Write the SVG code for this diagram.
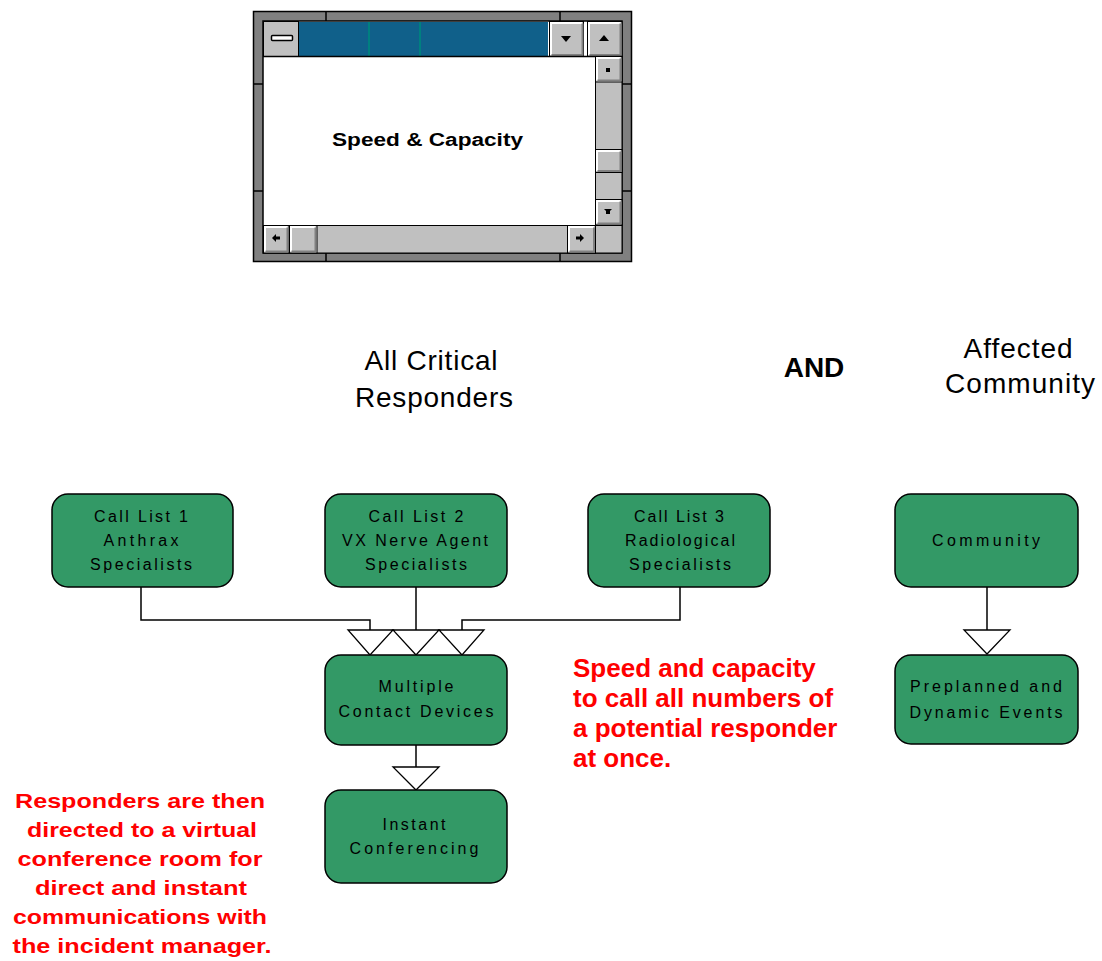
<svg xmlns="http://www.w3.org/2000/svg" width="1102" height="961" viewBox="0 0 1102 961">
<style>
.node rect{fill:#339966;stroke:#000;stroke-width:1.5}
.node text{font-family:"Liberation Sans",Arial,sans-serif;font-size:16px;fill:#000;text-anchor:middle}
.conn path{fill:none;stroke:#000;stroke-width:1.5}
.conn polygon{fill:#fff;stroke:#000;stroke-width:1.3}
.head{font-family:"Liberation Sans",Arial,sans-serif;font-size:28px;fill:#000;text-anchor:middle}
.red{font-family:"Liberation Sans",Arial,sans-serif;font-weight:bold;fill:#ff0000}
.btn{fill:#c0c0c0;stroke:#000;stroke-width:1}
.hi{fill:none;stroke:#fff;stroke-width:2}
.sh{fill:none;stroke:#808080;stroke-width:2}
.tick{stroke:#000;stroke-width:1.5}
</style>
<rect width="1102" height="961" fill="#fff"/>

<g id="window">
<rect x="253.5" y="11.5" width="378" height="250" fill="#808080" stroke="#000" stroke-width="1.5"/>
<line class="tick" x1="326" y1="11" x2="326" y2="21"/>
<line class="tick" x1="560" y1="11" x2="560" y2="21"/>
<line class="tick" x1="326" y1="253" x2="326" y2="262"/>
<line class="tick" x1="560" y1="253" x2="560" y2="262"/>
<line class="tick" x1="253" y1="84" x2="263" y2="84"/>
<line class="tick" x1="253" y1="191" x2="263" y2="191"/>
<line class="tick" x1="622" y1="84" x2="632" y2="84"/>
<line class="tick" x1="622" y1="191" x2="632" y2="191"/>
<rect x="263" y="21" width="359" height="232" fill="#fff" stroke="#000" stroke-width="1.5"/>
<!-- title bar -->
<rect class="btn" x="263.5" y="21.5" width="35" height="35"/>
<rect x="271.5" y="35.5" width="21" height="5" rx="1" fill="#fff" stroke="#000" stroke-width="1.5"/>
<rect x="299" y="22" width="249" height="34" fill="#10608a"/>
<rect x="368" y="22" width="2" height="34" fill="#008080"/>
<rect x="419" y="22" width="2" height="34" fill="#008080"/>
<rect class="btn" x="549.5" y="21.5" width="34" height="35"/>
<path class="hi" d="M551 55 V23 H582"/>
<path class="sh" d="M551.5 55 H582.5 V23.5"/>
<polygon points="561,36 571,36 566,42" fill="#000"/>
<rect class="btn" x="587.5" y="21.5" width="34.5" height="35"/>
<path class="hi" d="M589 55 V23 H620.5"/>
<path class="sh" d="M589.5 55 H620.5 V23.5"/>
<polygon points="599,41 609,41 604,35" fill="#000"/>
<line x1="263" y1="56.5" x2="622" y2="56.5" stroke="#000" stroke-width="1.5"/>
<!-- vertical scrollbar -->
<rect class="btn" x="595.5" y="56.5" width="26.5" height="168.5"/>
<rect class="btn" x="595.5" y="56.5" width="26.5" height="25.5"/>
<path class="hi" d="M597 80.5 V58 H620.5"/>
<path class="sh" d="M597.5 80.5 H620.5 V58.5"/>
<rect x="606" y="68" width="4" height="4" fill="#000"/>
<rect class="btn" x="595.5" y="149.5" width="26.5" height="23"/>
<path class="hi" d="M597 171 V151 H620.5"/>
<path class="sh" d="M597.5 171 H620.5 V151.5"/>
<rect class="btn" x="595.5" y="199.5" width="26.5" height="25.5"/>
<path class="hi" d="M597 223.5 V201 H620.5"/>
<path class="sh" d="M597.5 223.5 H620.5 V201.5"/>
<polygon points="604,209 612,209 610,211 610,214 606,214 606,211" fill="#000"/>
<!-- horizontal scrollbar -->
<rect class="btn" x="263.5" y="225.5" width="332" height="27.5"/>
<rect class="btn" x="263.5" y="225.5" width="25.5" height="27.5"/>
<path class="hi" d="M265 251.5 V227 H287.5"/>
<path class="sh" d="M265.5 251.5 H287.5 V227.5"/>
<polygon points="272,238 276,234 276,236.5 280,236.5 280,239.5 276,239.5 276,242" fill="#000"/>
<rect class="btn" x="289.5" y="225.5" width="27.5" height="27.5"/>
<path class="hi" d="M291 251.5 V227 H315.5"/>
<path class="sh" d="M291.5 251.5 H315.5 V227.5"/>
<rect class="btn" x="567.5" y="225.5" width="28" height="27.5"/>
<path class="hi" d="M569 251.5 V227 H594"/>
<path class="sh" d="M569.5 251.5 H594 V227.5"/>
<polygon points="584,238 580,234 580,236.5 576,236.5 576,239.5 580,239.5 580,242" fill="#000"/>
<rect class="btn" x="595.5" y="225.5" width="26.5" height="27.5"/>
<text x="427.5" y="146" font-family="'Liberation Sans',Arial,sans-serif" font-weight="bold" font-size="18" text-anchor="middle" textLength="191" lengthAdjust="spacingAndGlyphs">Speed &amp; Capacity</text>
</g>

<g id="headings">
<text class="head" x="431" y="370" textLength="133" lengthAdjust="spacing">All Critical</text>
<text class="head" x="434" y="407" textLength="158" lengthAdjust="spacing">Responders</text>
<text x="814" y="377" font-family="'Liberation Sans',Arial,sans-serif" font-weight="bold" font-size="28" text-anchor="middle">AND</text>
<text class="head" x="1018" y="358" textLength="109" lengthAdjust="spacing">Affected</text>
<text class="head" x="1020" y="393" textLength="150" lengthAdjust="spacing">Community</text>
</g>

<g id="connectors" class="conn">
<path d="M141 587 V620 H370 V630"/>
<path d="M416 587 V630"/>
<path d="M680 587 V620 H462 V630"/>
<polygon points="348,630 393,630 370,655"/>
<polygon points="393,630 439,630 416,655"/>
<polygon points="439,630 484,630 462,655"/>
<path d="M416 745 V767"/>
<polygon points="393,767 439,767 416,790"/>
<path d="M987 587 V630"/>
<polygon points="964,630 1010,630 987,654"/>
</g>

<g id="n-calllist1" class="node">
<rect x="52" y="494" width="181" height="93" rx="16"/>
<text x="141" y="522" textLength="94" lengthAdjust="spacing">Call List 1</text>
<text x="141" y="546" textLength="75" lengthAdjust="spacing">Anthrax</text>
<text x="141" y="570" textLength="102" lengthAdjust="spacing">Specialists</text>
</g>
<g id="n-calllist2" class="node">
<rect x="325" y="494" width="182" height="93" rx="16"/>
<text x="416" y="522" textLength="95" lengthAdjust="spacing">Call List 2</text>
<text x="415" y="546" textLength="146" lengthAdjust="spacing">VX Nerve Agent</text>
<text x="416" y="570" textLength="102" lengthAdjust="spacing">Specialists</text>
</g>
<g id="n-calllist3" class="node">
<rect x="588" y="494" width="182" height="93" rx="16"/>
<text x="679" y="522" textLength="90" lengthAdjust="spacing">Call List 3</text>
<text x="680" y="546" textLength="110" lengthAdjust="spacing">Radiological</text>
<text x="680" y="570" textLength="102" lengthAdjust="spacing">Specialists</text>
</g>
<g id="n-community" class="node">
<rect x="895" y="494" width="183" height="93" rx="16"/>
<text x="986" y="546" textLength="108" lengthAdjust="spacing">Community</text>
</g>
<g id="n-multiple" class="node">
<rect x="325" y="655" width="182" height="90" rx="16"/>
<text x="416" y="692" textLength="75" lengthAdjust="spacing">Multiple</text>
<text x="416" y="717" textLength="155" lengthAdjust="spacing">Contact Devices</text>
</g>
<g id="n-instant" class="node">
<rect x="325" y="790" width="182" height="93" rx="16"/>
<text x="414" y="830" textLength="63" lengthAdjust="spacing">Instant</text>
<text x="414" y="854" textLength="129" lengthAdjust="spacing">Conferencing</text>
</g>
<g id="n-preplanned" class="node">
<rect x="895" y="655" width="183" height="89" rx="16"/>
<text x="986" y="692" textLength="152" lengthAdjust="spacing">Preplanned and</text>
<text x="986" y="718" textLength="153" lengthAdjust="spacing">Dynamic Events</text>
</g>

<g id="note-speed" class="red" font-size="26">
<text x="573" y="677">Speed and capacity</text>
<text x="573" y="707">to call all numbers of</text>
<text x="573" y="737">a potential responder</text>
<text x="573" y="767">at once.</text>
</g>

<g id="note-responders" class="red" font-size="21" text-anchor="middle">
<text x="140" y="808" textLength="250" lengthAdjust="spacingAndGlyphs">Responders are then</text>
<text x="142" y="837" textLength="230" lengthAdjust="spacingAndGlyphs">directed to a virtual</text>
<text x="140" y="866" textLength="245" lengthAdjust="spacingAndGlyphs">conference room for</text>
<text x="141" y="895" textLength="212" lengthAdjust="spacingAndGlyphs">direct and instant</text>
<text x="140" y="924" textLength="254" lengthAdjust="spacingAndGlyphs">communications with</text>
<text x="142" y="953" textLength="259" lengthAdjust="spacingAndGlyphs">the incident manager.</text>
</g>
</svg>
